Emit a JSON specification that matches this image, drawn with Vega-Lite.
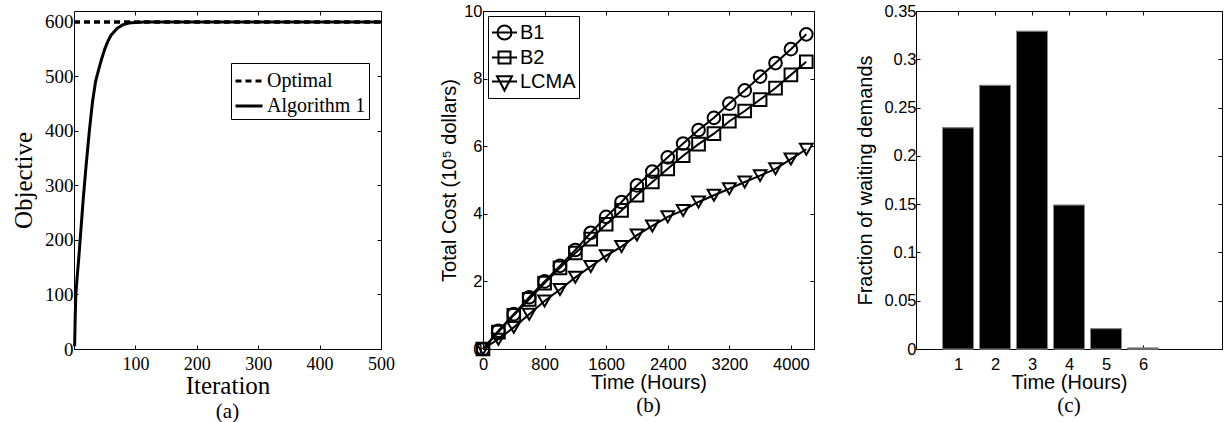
{
  "$schema": "https://vega.github.io/schema/vega-lite/v6.json",
  "padding": {"left": 11, "top": 2, "right": 0, "bottom": 0},
  "spacing": 102,
  "bounds": "flush",
  "resolve": {"legend": {"shape": "independent", "strokeDash": "independent"}},
  "config": {
    "view": {"stroke": "black", "strokeWidth": 1},
    "axis": {"grid": false, "domain": false, "tickColor": "black", "tickSize": -4, "labelColor": "black", "titleColor": "black", "labelFlush": false, "labelOverlap": false, "labelBound": false, "titleFontWeight": "normal"}
  },
  "hconcat": [
    {
      "width": 307,
      "height": 338,
      "title": {"text": "(a)", "orient": "bottom", "font": "Liberation Serif", "fontSize": 21, "fontWeight": "normal", "color": "black", "offset": 3},
      "data": {"values": [
        {"it": 0, "obj": 600, "series": "Optimal"},
        {"it": 500, "obj": 600, "series": "Optimal"},
        {"it": 1, "obj": 5, "series": "Algorithm 1"},
        {"it": 2, "obj": 60, "series": "Algorithm 1"},
        {"it": 3, "obj": 100, "series": "Algorithm 1"},
        {"it": 5, "obj": 130, "series": "Algorithm 1"},
        {"it": 8, "obj": 170, "series": "Algorithm 1"},
        {"it": 10, "obj": 200, "series": "Algorithm 1"},
        {"it": 15, "obj": 275, "series": "Algorithm 1"},
        {"it": 20, "obj": 340, "series": "Algorithm 1"},
        {"it": 25, "obj": 400, "series": "Algorithm 1"},
        {"it": 30, "obj": 452, "series": "Algorithm 1"},
        {"it": 35, "obj": 490, "series": "Algorithm 1"},
        {"it": 40, "obj": 512, "series": "Algorithm 1"},
        {"it": 45, "obj": 532, "series": "Algorithm 1"},
        {"it": 50, "obj": 550, "series": "Algorithm 1"},
        {"it": 55, "obj": 564, "series": "Algorithm 1"},
        {"it": 60, "obj": 575, "series": "Algorithm 1"},
        {"it": 70, "obj": 588, "series": "Algorithm 1"},
        {"it": 80, "obj": 595, "series": "Algorithm 1"},
        {"it": 90, "obj": 598, "series": "Algorithm 1"},
        {"it": 100, "obj": 599, "series": "Algorithm 1"},
        {"it": 120, "obj": 600, "series": "Algorithm 1"},
        {"it": 500, "obj": 600, "series": "Algorithm 1"}
      ]},
      "resolve": {"axis": {"x": "independent", "y": "independent"}},
      "layer": [
        {
          "mark": {"type": "line", "color": "black", "strokeWidth": 3},
          "encoding": {
            "x": {"field": "it", "type": "quantitative", "scale": {"domain": [0, 500], "nice": false},
              "axis": {"orient": "bottom", "values": [100, 200, 300, 400, 500], "title": "Iteration", "labelFont": "Liberation Serif", "labelFontSize": 18, "titleFont": "Liberation Serif", "titleFontSize": 25, "labelPadding": 10, "titlePadding": 0}},
            "y": {"field": "obj", "type": "quantitative", "scale": {"domain": [0, 620], "nice": false},
              "axis": {"orient": "left", "values": [0, 100, 200, 300, 400, 500, 600], "title": "Objective", "labelFont": "Liberation Serif", "labelFontSize": 19, "titleFont": "Liberation Serif", "titleFontSize": 25, "labelPadding": 5, "titlePadding": 8}},
            "strokeDash": {"field": "series", "type": "nominal", "scale": {"domain": ["Optimal", "Algorithm 1"], "range": [[6, 4], [1, 0]]},
              "legend": {"orient": "none", "legendX": 157, "legendY": 52, "title": null, "strokeColor": "black", "fillColor": "white", "padding": 3, "rowPadding": 0, "symbolType": "stroke", "symbolSize": 729, "symbolStrokeWidth": 3, "symbolStrokeColor": "black", "labelFont": "Liberation Serif", "labelFontSize": 20, "labelOffset": 3, "labelColor": "black"}}
          }
        },
        {
          "transform": [{"filter": "datum.series === 'Optimal'"}],
          "mark": {"type": "line", "color": "black", "strokeWidth": 3},
          "encoding": {
            "x": {"field": "it", "type": "quantitative", "axis": {"orient": "top", "values": [100, 200, 300, 400, 500], "labels": false, "title": null}},
            "y": {"field": "obj", "type": "quantitative", "axis": {"orient": "right", "values": [0, 100, 200, 300, 400, 500, 600], "labels": false, "title": null}},
            "strokeDash": {"field": "series", "type": "nominal"}
          }
        }
      ]
    },
    {
      "width": 331,
      "height": 338,
      "title": {"text": "(b)", "orient": "bottom", "font": "Liberation Serif", "fontSize": 21, "fontWeight": "normal", "color": "black", "offset": 2},
      "data": {"values": [
        {"t": 0, "cost": 0, "series": "B1"}, {"t": 200, "cost": 0.54, "series": "B1"}, {"t": 400, "cost": 1.03, "series": "B1"}, {"t": 600, "cost": 1.53, "series": "B1"}, {"t": 800, "cost": 2.0, "series": "B1"}, {"t": 1000, "cost": 2.46, "series": "B1"}, {"t": 1200, "cost": 2.93, "series": "B1"}, {"t": 1400, "cost": 3.44, "series": "B1"}, {"t": 1600, "cost": 3.91, "series": "B1"}, {"t": 1800, "cost": 4.35, "series": "B1"}, {"t": 2000, "cost": 4.84, "series": "B1"}, {"t": 2200, "cost": 5.25, "series": "B1"}, {"t": 2400, "cost": 5.67, "series": "B1"}, {"t": 2600, "cost": 6.08, "series": "B1"}, {"t": 2800, "cost": 6.48, "series": "B1"}, {"t": 3000, "cost": 6.84, "series": "B1"}, {"t": 3200, "cost": 7.26, "series": "B1"}, {"t": 3400, "cost": 7.65, "series": "B1"}, {"t": 3600, "cost": 8.06, "series": "B1"}, {"t": 3800, "cost": 8.46, "series": "B1"}, {"t": 4000, "cost": 8.87, "series": "B1"}, {"t": 4200, "cost": 9.31, "series": "B1"},
        {"t": 0, "cost": 0, "series": "B2"}, {"t": 200, "cost": 0.5, "series": "B2"}, {"t": 400, "cost": 1.0, "series": "B2"}, {"t": 600, "cost": 1.47, "series": "B2"}, {"t": 800, "cost": 1.95, "series": "B2"}, {"t": 1000, "cost": 2.4, "series": "B2"}, {"t": 1200, "cost": 2.84, "series": "B2"}, {"t": 1400, "cost": 3.25, "series": "B2"}, {"t": 1600, "cost": 3.69, "series": "B2"}, {"t": 1800, "cost": 4.1, "series": "B2"}, {"t": 2000, "cost": 4.55, "series": "B2"}, {"t": 2200, "cost": 4.94, "series": "B2"}, {"t": 2400, "cost": 5.33, "series": "B2"}, {"t": 2600, "cost": 5.72, "series": "B2"}, {"t": 2800, "cost": 6.06, "series": "B2"}, {"t": 3000, "cost": 6.37, "series": "B2"}, {"t": 3200, "cost": 6.74, "series": "B2"}, {"t": 3400, "cost": 7.04, "series": "B2"}, {"t": 3600, "cost": 7.38, "series": "B2"}, {"t": 3800, "cost": 7.72, "series": "B2"}, {"t": 4000, "cost": 8.11, "series": "B2"}, {"t": 4200, "cost": 8.5, "series": "B2"},
        {"t": 0, "cost": 0, "series": "LCMA"}, {"t": 200, "cost": 0.29, "series": "LCMA"}, {"t": 400, "cost": 0.64, "series": "LCMA"}, {"t": 600, "cost": 1.03, "series": "LCMA"}, {"t": 800, "cost": 1.42, "series": "LCMA"}, {"t": 1000, "cost": 1.76, "series": "LCMA"}, {"t": 1200, "cost": 2.12, "series": "LCMA"}, {"t": 1400, "cost": 2.44, "series": "LCMA"}, {"t": 1600, "cost": 2.76, "series": "LCMA"}, {"t": 1800, "cost": 3.03, "series": "LCMA"}, {"t": 2000, "cost": 3.37, "series": "LCMA"}, {"t": 2200, "cost": 3.64, "series": "LCMA"}, {"t": 2400, "cost": 3.91, "series": "LCMA"}, {"t": 2600, "cost": 4.1, "series": "LCMA"}, {"t": 2800, "cost": 4.35, "series": "LCMA"}, {"t": 3000, "cost": 4.55, "series": "LCMA"}, {"t": 3200, "cost": 4.74, "series": "LCMA"}, {"t": 3400, "cost": 4.94, "series": "LCMA"}, {"t": 3600, "cost": 5.13, "series": "LCMA"}, {"t": 3800, "cost": 5.33, "series": "LCMA"}, {"t": 4000, "cost": 5.62, "series": "LCMA"}, {"t": 4200, "cost": 5.91, "series": "LCMA"}
      ]},
      "resolve": {"axis": {"x": "independent", "y": "independent"}, "scale": {"shape": "independent"}},
      "layer": [
        {
          "mark": {"type": "line", "color": "black", "strokeWidth": 2},
          "encoding": {
            "x": {"field": "t", "type": "quantitative", "scale": {"domain": [0, 4300], "nice": false},
              "axis": {"orient": "top", "values": [0, 800, 1600, 2400, 3200, 4000], "labels": false, "title": null}},
            "y": {"field": "cost", "type": "quantitative", "scale": {"domain": [0, 10], "nice": false},
              "axis": {"orient": "right", "values": [0, 2, 4, 6, 8, 10], "labels": false, "title": null}},
            "detail": {"field": "series", "type": "nominal"}
          }
        },
        {
          "mark": {"type": "point", "filled": false, "color": "black", "strokeWidth": 2, "size": 160, "opacity": 1},
          "encoding": {
            "x": {"field": "t", "type": "quantitative",
              "axis": {"orient": "bottom", "values": [0, 800, 1600, 2400, 3200, 4000], "format": "d", "title": "Time (Hours)", "labelFont": "Liberation Sans", "labelFontSize": 16.5, "titleFont": "Liberation Sans", "titleFontSize": 20, "labelPadding": 11, "titlePadding": 0}},
            "y": {"field": "cost", "type": "quantitative",
              "axis": {"orient": "left", "values": [0, 2, 4, 6, 8, 10], "title": "Total Cost (10⁵ dollars)", "labelFont": "Liberation Sans", "labelFontSize": 16.5, "titleFont": "Liberation Sans", "titleFontSize": 20, "labelPadding": 5, "titlePadding": 4}},
            "shape": {"field": "series", "type": "nominal", "scale": {"domain": ["B1", "B2", "LCMA"], "range": ["circle", "square", "triangle-down"]}, "legend": null}
          }
        },
        {
          "mark": {"type": "point", "filled": false, "color": "black", "strokeWidth": 2, "size": 0},
          "encoding": {
            "x": {"field": "t", "type": "quantitative", "axis": null},
            "y": {"field": "cost", "type": "quantitative", "axis": null},
            "shape": {"field": "series", "type": "nominal",
              "scale": {"domain": ["B1", "B2", "LCMA"], "range": ["M-1,0H1M0.56,0A0.56,0.56,0,1,1,-0.56,0A0.56,0.56,0,1,1,0.56,0", "M-1,0H1M-0.48,-0.48H0.48V0.48H-0.48Z", "M-1,0H1M-0.6,-0.43H0.6L0,0.72Z"]},
              "legend": {"orient": "none", "legendX": 5, "legendY": 5, "title": null, "strokeColor": "black", "fillColor": "white", "padding": 3, "rowPadding": 0, "symbolSize": 625, "symbolOpacity": 1, "symbolStrokeWidth": 2, "symbolStrokeColor": "black", "symbolFillColor": "transparent", "labelFont": "Liberation Sans", "labelFontSize": 20, "labelOffset": 2, "labelColor": "black"}}
          }
        }
      ]
    },
    {
      "width": 306,
      "height": 338,
      "title": {"text": "(c)", "orient": "bottom", "font": "Liberation Serif", "fontSize": 21, "fontWeight": "normal", "color": "black", "offset": 2},
      "data": {"values": [
        {"hour": 1, "frac": 0.229},
        {"hour": 2, "frac": 0.273},
        {"hour": 3, "frac": 0.329},
        {"hour": 4, "frac": 0.149},
        {"hour": 5, "frac": 0.021},
        {"hour": 6, "frac": 0.001}
      ]},
      "resolve": {"axis": {"x": "independent", "y": "independent"}},
      "layer": [
        {
          "mark": {"type": "bar", "size": 31, "color": "black", "stroke": "#8a8a8a", "strokeWidth": 1},
          "encoding": {
            "x": {"field": "hour", "type": "quantitative", "scale": {"domain": [0, 8], "nice": false},
              "axis": {"orient": "bottom", "values": [1, 2, 3, 4, 5, 6], "title": "Time (Hours)", "labelFont": "Liberation Sans", "labelFontSize": 16.5, "titleFont": "Liberation Sans", "titleFontSize": 20, "labelPadding": 11, "titlePadding": 0}},
            "y": {"field": "frac", "type": "quantitative", "scale": {"domain": [0, 0.35], "nice": false},
              "axis": {"orient": "left", "values": [0, 0.05, 0.1, 0.15, 0.2, 0.25, 0.3, 0.35], "format": "~g", "title": "Fraction of waiting demands", "labelFont": "Liberation Sans", "labelFontSize": 16.5, "titleFont": "Liberation Sans", "titleFontSize": 20, "labelPadding": 4, "titlePadding": 8}}
          }
        },
        {
          "mark": {"type": "bar", "size": 31, "color": "black", "stroke": "#8a8a8a", "strokeWidth": 1},
          "encoding": {
            "x": {"field": "hour", "type": "quantitative", "axis": {"orient": "top", "values": [1, 2, 3, 4, 5, 6], "labels": false, "title": null}},
            "y": {"field": "frac", "type": "quantitative", "axis": {"orient": "right", "values": [0, 0.05, 0.1, 0.15, 0.2, 0.25, 0.3, 0.35], "labels": false, "title": null}}
          }
        }
      ]
    }
  ]
}
